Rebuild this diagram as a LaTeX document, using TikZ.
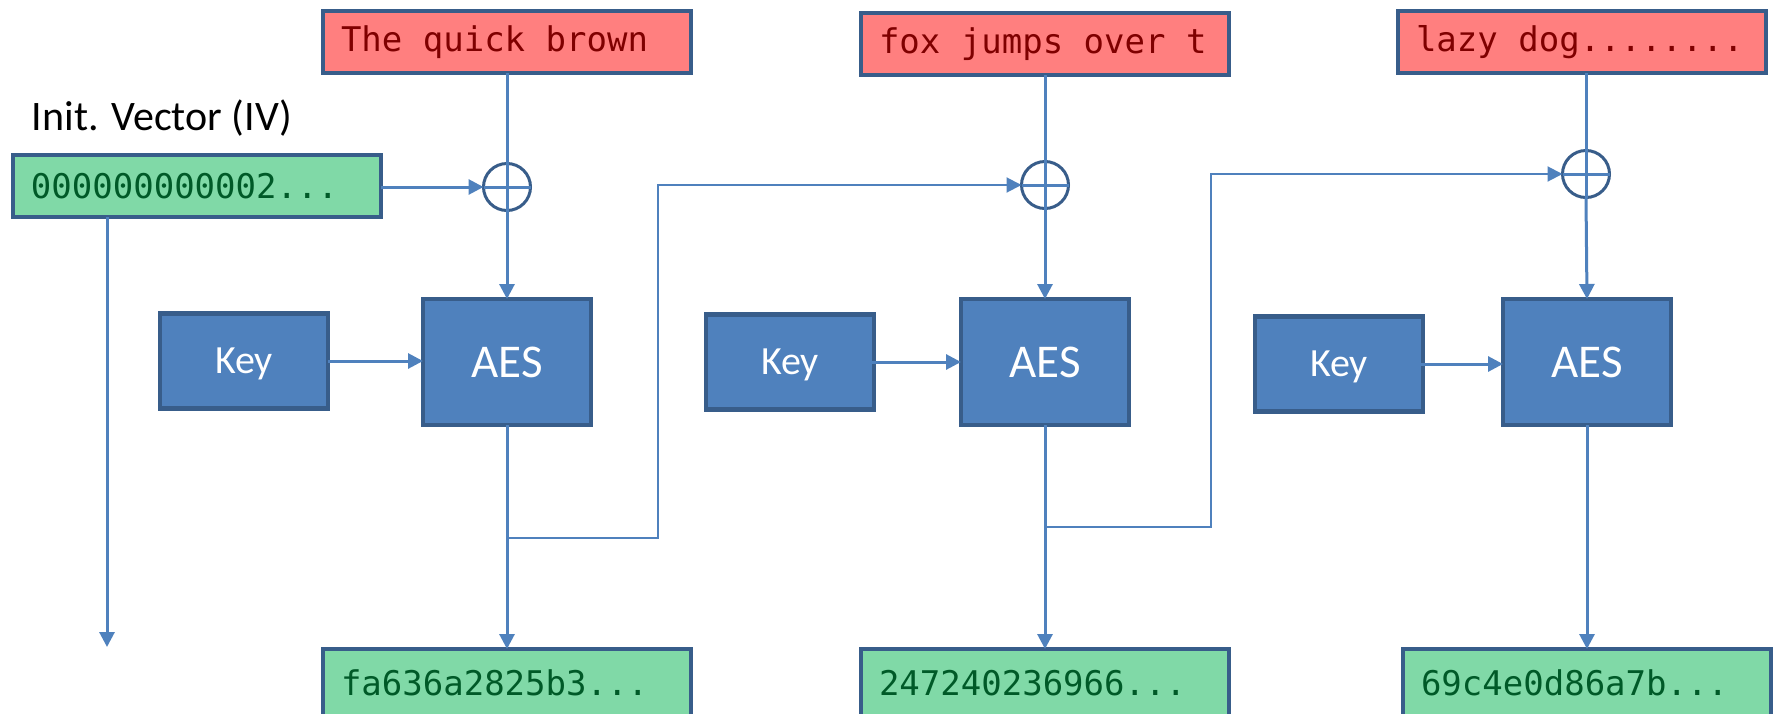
\documentclass[tikz,border=0pt]{standalone}
\usepackage{fontspec}
\setmainfont{Carlito}
\newfontfamily\monofont{DejaVu Sans Mono}
\newcommand\msp{\hspace*{0.602em}}
\usetikzlibrary{arrows.meta}
\definecolor{boxblue}{HTML}{4F81BD}
\definecolor{edgeblue}{HTML}{385D8A}
\definecolor{pinkfill}{HTML}{FF7F7F}
\definecolor{greenfill}{HTML}{80D9A7}
\definecolor{redtext}{HTML}{7F0000}
\definecolor{greentext}{HTML}{005A28}
\begin{document}
\begin{tikzpicture}[x=0.5pt,y=-0.5pt,
  every node/.style={inner sep=0pt, outer sep=0pt},
  databox/.style={draw=edgeblue, line width=2.25pt, text width=166pt, inner xsep=9pt,
    minimum height=31pt, align=left, font=\monofont\fontsize{17}{20}\selectfont},
  plainbox/.style={databox, fill=pinkfill, text=redtext},
  cipherbox/.style={databox, fill=greenfill, text=greentext},
  blockbox/.style={draw=edgeblue, line width=2.25pt, fill=boxblue, text=white, text depth=0pt},
  keybox/.style={blockbox, minimum width=84pt, minimum height=47.5pt, text height=12.5pt,
    font=\fontsize{20}{24}\selectfont},
  aesbox/.style={blockbox, minimum width=84pt, minimum height=63pt, text height=15pt,
    font=\fontsize{23.5}{28}\selectfont},
  xorc/.style={circle, draw=edgeblue, line width=1.5pt, minimum size=23.5pt},
  wire/.style={draw=boxblue, line width=1.5pt},
  arr/.style={wire, -{Triangle[length=7.5pt,width=7.5pt]}},
  fb/.style={draw=boxblue, line width=1pt, -{Triangle[length=7.5pt,width=7.5pt]}}
]
\useasboundingbox (0,0) rectangle (1779,713);

% plaintext blocks
\node[plainbox] (r1) at (507,42) {The\msp quick\msp brown};
\node[plainbox] (r2) at (1045,44) {fox\msp jumps\msp over\msp t};
\node[plainbox] (r3) at (1582,42) {lazy\msp dog........};

% IV
\node[anchor=west, font=\fontsize{21}{25}\selectfont] (ivl) at (32,118) {Init. Vector (IV)};
\node[cipherbox] (iv) at (197,186) {000000000002...};

% XOR circles
\node[xorc] (c1) at (507,187) {};
\node[xorc] (c2) at (1045,185) {};
\node[xorc] (c3) at (1586,174) {};

% key and AES blocks
\node[keybox] (k1) at (244,361) {Key};
\node[keybox] (k2) at (790,362) {Key};
\node[keybox] (k3) at (1339,364) {Key};
\node[aesbox] (a1) at (507,362) {AES};
\node[aesbox] (a2) at (1045,362) {AES};
\node[aesbox] (a3) at (1587,362) {AES};

% ciphertext blocks
\node[cipherbox, minimum height=34pt] (o1) at (507,683) {fa636a2825b3...};
\node[cipherbox, minimum height=34pt] (o2) at (1045,683) {247240236966...};
\node[cipherbox, minimum height=34pt] (o3) at (1587,683) {69c4e0d86a7b...};

% plus signs inside XOR circles
\foreach \c in {c1,c2,c3}{
  \draw[wire] (\c.north) -- (\c.south);
  \draw[wire] (\c.west) -- (\c.east);
}

% plaintext to XOR
\draw[wire] (r1.south) -- (c1.north);
\draw[wire] (r2.south) -- (c2.north);
\draw[wire] (r3.south -| c3.north) -- (c3.north);

% XOR to AES
\draw[arr] (c1.south) -- (a1.north);
\draw[arr] (c2.south) -- (a2.north);
\draw[arr] (c3.south) -- (a3.north);

% key to AES
\draw[arr] (k1.east) -- (k1.east -| a1.west);
\draw[arr] ([xshift=-15.5pt]k2.east) -- (k2.east -| a2.west);
\draw[arr] ([xshift=-19.5pt]k3.east) -- (k3.east -| a3.west);

% AES to ciphertext
\draw[arr] (a1.south) -- (o1.north);
\draw[arr] (a2.south) -- (o2.north);
\draw[arr] (a3.south) -- (o3.north);

% IV
\draw[arr] (iv.east |- c1.west) -- (c1.west);
\coordinate (ivend) at (107,647);
\draw[arr] (iv.south -| ivend) -- (ivend);

% chaining feedback
\coordinate (t1) at (507,538);
\coordinate (u1) at (658,538);
\draw[fb] (t1) -- (u1) |- (c2.west);
\coordinate (t2) at (1045,527);
\coordinate (u2) at (1211,527);
\draw[fb] (t2) -- (u2) |- (c3.west);
\end{tikzpicture}
\end{document}
